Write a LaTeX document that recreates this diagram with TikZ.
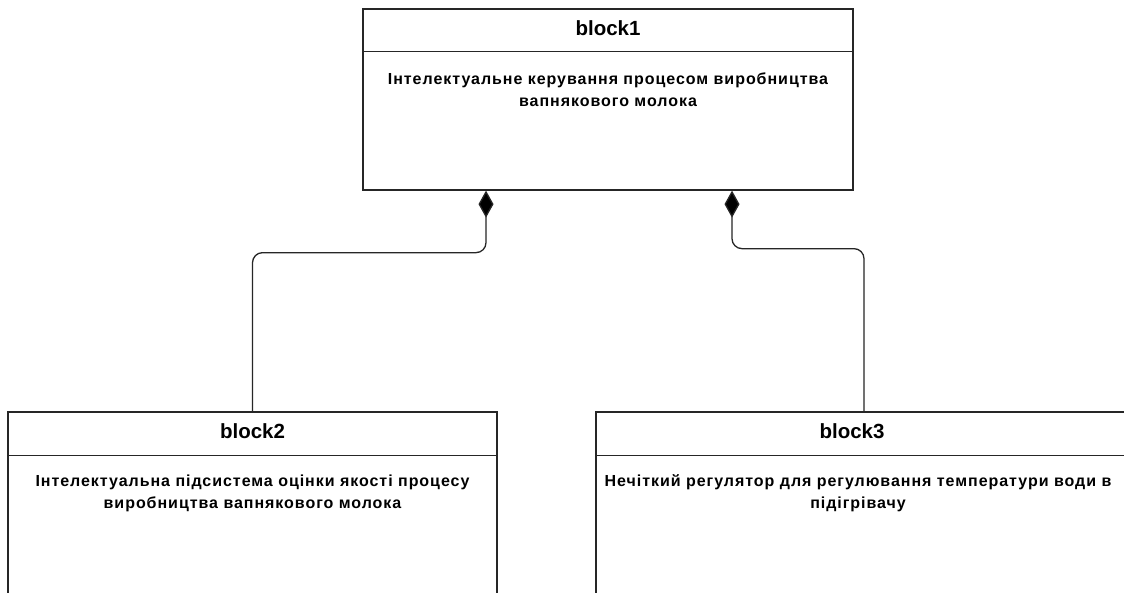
\documentclass[tikz,border=0pt]{standalone}
\usepackage{fontspec}
\setmainfont{Liberation Sans}
\newfontfamily\bodyfont[LetterSpace=6]{Liberation Sans}
\usetikzlibrary{arrows.meta,calc}
\begin{document}
\begin{tikzpicture}[x=1pt,y=-1pt,
  line width=1.3pt,
  classbox/.style={draw=black!85, fill=white, inner sep=0pt, line width=1.3pt},
  headtext/.style={anchor=base, inner sep=0pt, font=\fontsize{20.5}{24}\selectfont\bfseries},
  bodytext/.style={anchor=base, inner sep=0pt, align=center, font=\bodyfont\fontsize{16}{22}\selectfont\bfseries},
  compose/.style={draw=black!85, line width=1.3pt, rounded corners=10pt,
    {Diamond[length=27pt,width=15pt,fill=black]}-}
]
\useasboundingbox (0,0) rectangle (1124,592);
\fill[white] (0,0) rectangle (1124,592);
\clip (0,0) rectangle (1124,592);

% container class
\node[classbox, minimum width=490pt, minimum height=181pt] (b1) at (608,99.5) {};
\draw[draw=black!85] ($(b1.north west)+(0,43)$) -- ($(b1.north east)+(0,43)$);
\node[headtext] (h1) at (608,35) {block1};
\node[bodytext] (t1) at (608,106) {Інтелектуальне керування процесом виробництва\\вапнякового молока};

% part classes
\node[classbox, minimum width=489pt, minimum height=208pt] (b2) at (252.5,516) {};
\draw[draw=black!85] ($(b2.north west)+(0,44)$) -- ($(b2.north east)+(0,44)$);
\node[headtext] (h2) at (252.5,438) {block2};
\node[bodytext] (t2) at (252.5,508) {Інтелектуальна підсистема оцінки якості процесу\\виробництва вапнякового молока};

\node[classbox, minimum width=536pt, minimum height=208pt] (b3) at (864,516) {};
\draw[draw=black!85] ($(b3.north west)+(0,44)$) -- ($(b3.north east)+(0,44)$);
\node[headtext] (h3) at (852,438) {block3};
\node[bodytext] (t3) at (858,508) {Нечіткий регулятор для регулювання температури води в\\підігрівачу};

% composition links
\draw[compose] ([xshift=-122pt]b1.south) -- ++(0,62) -| (b2.north);
\draw[compose] ([xshift=124pt]b1.south) -- ++(0,58) -| (b3.north);
\end{tikzpicture}
\end{document}
